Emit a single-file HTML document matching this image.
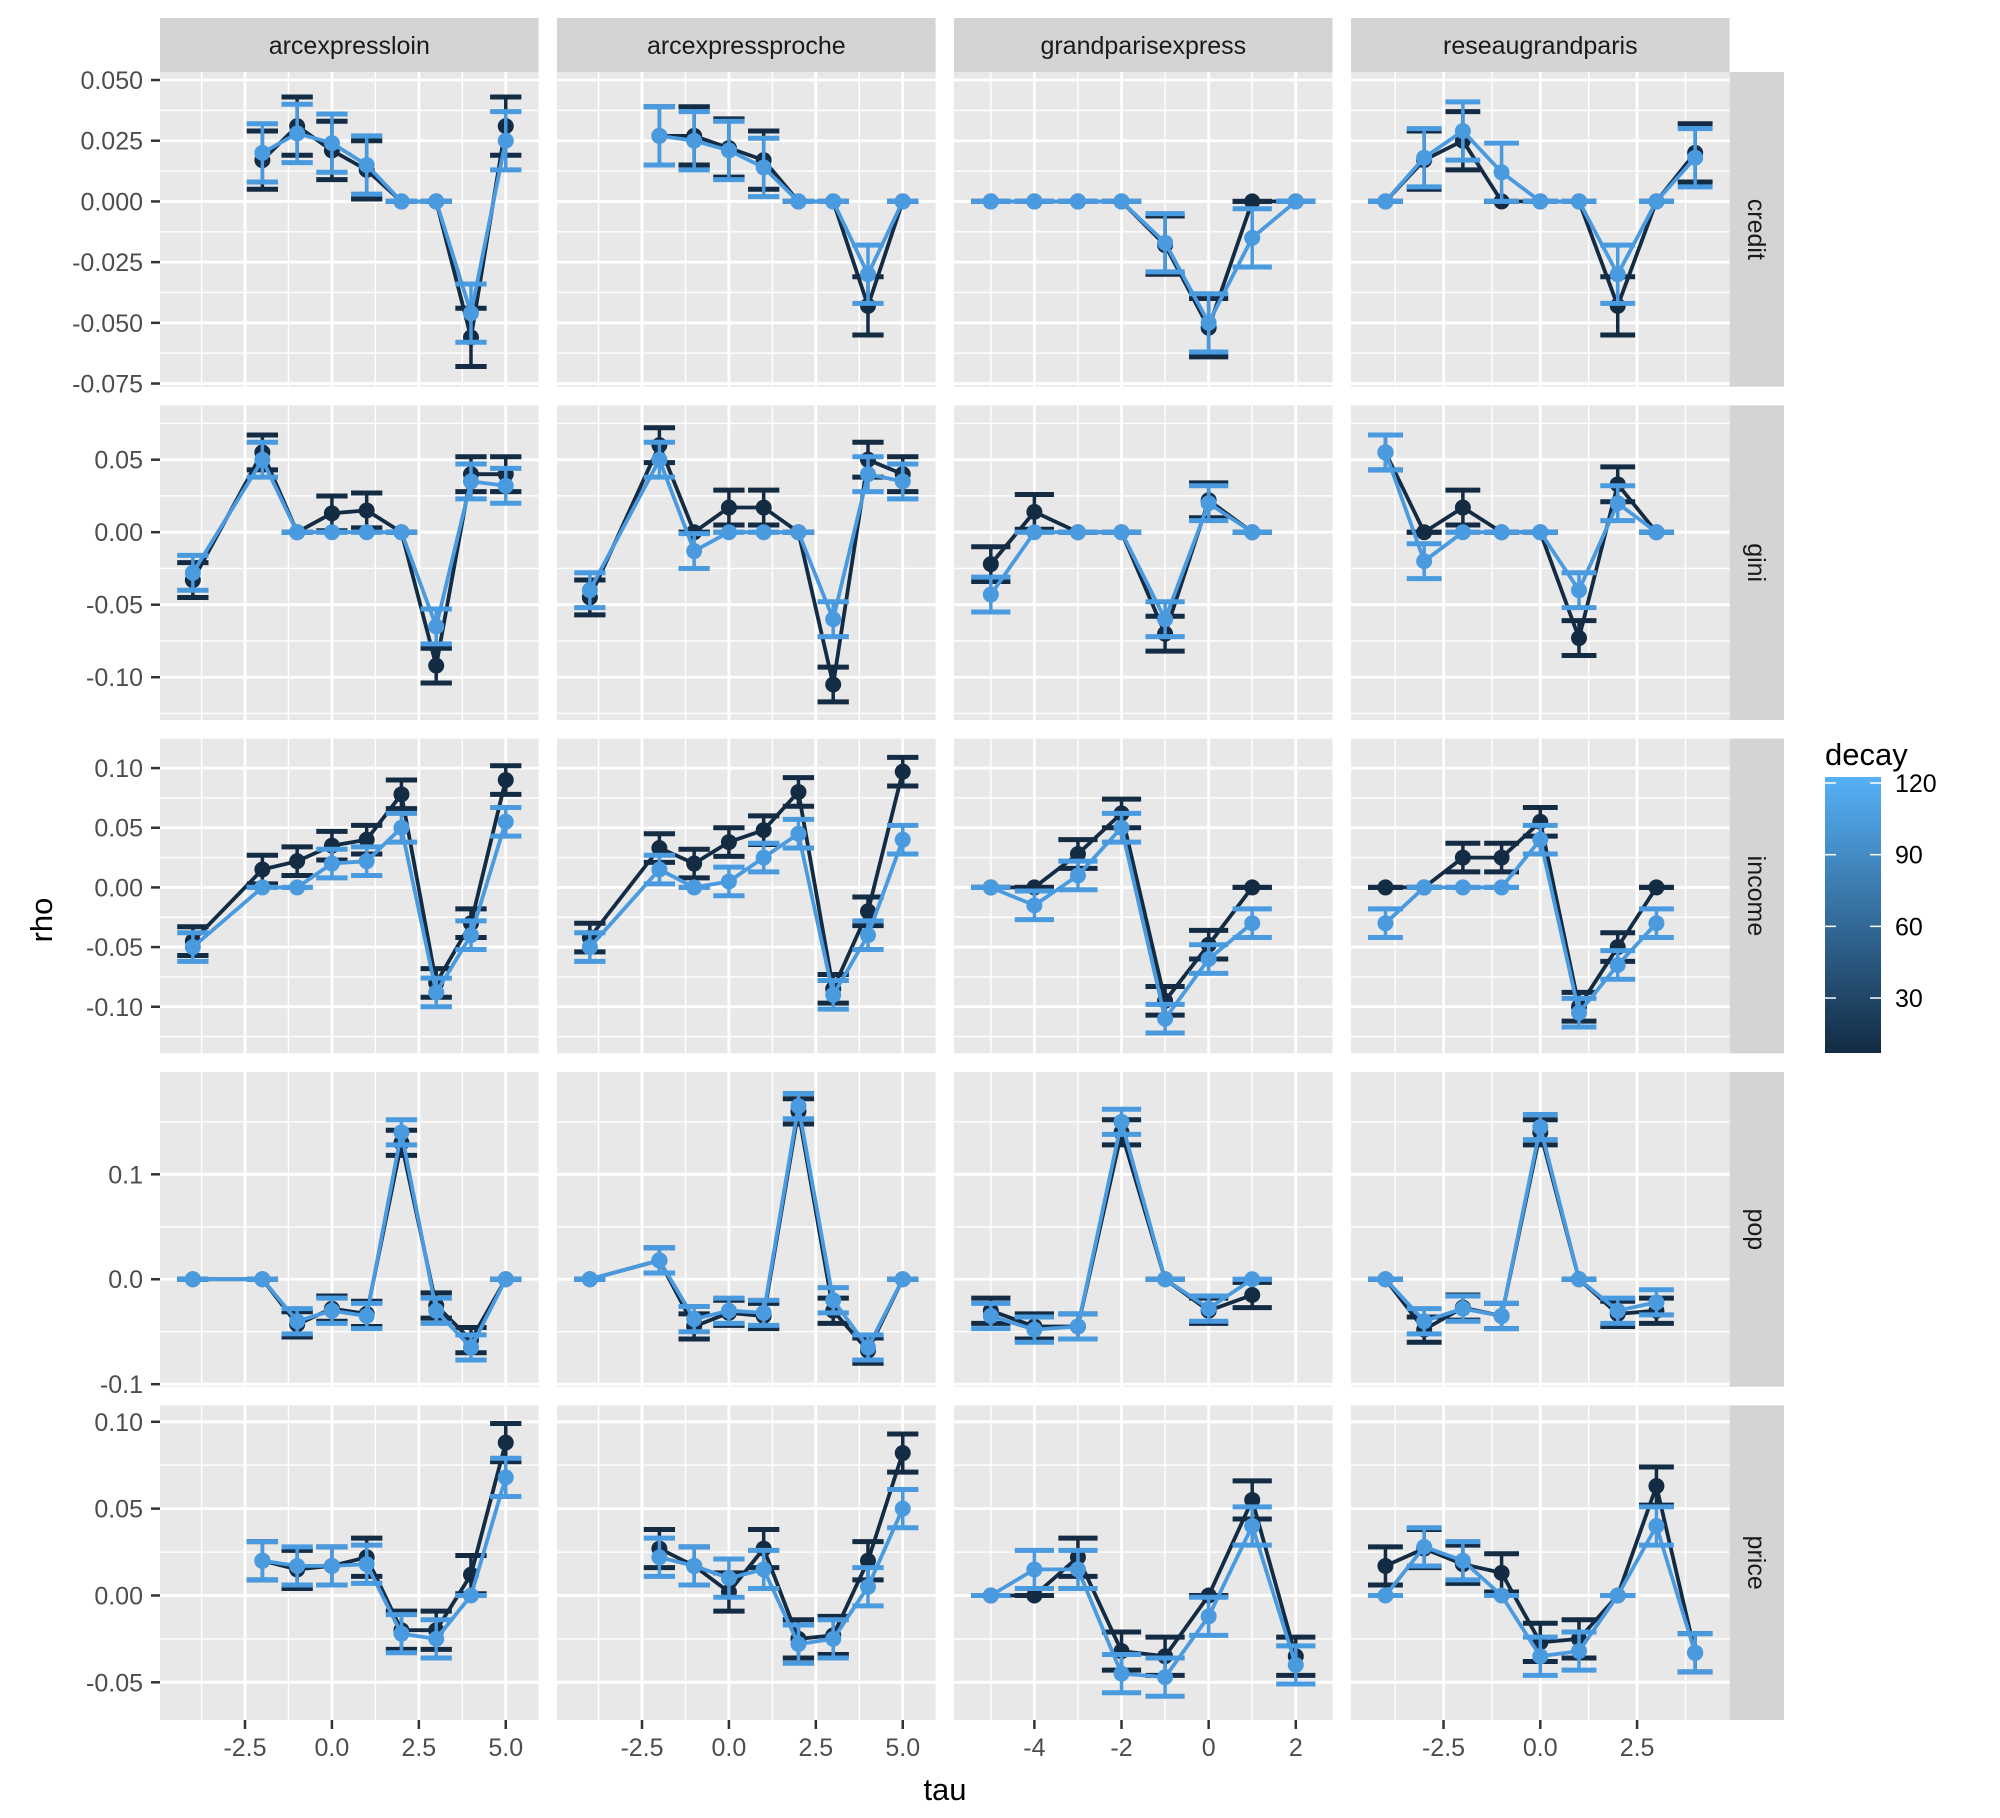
<!DOCTYPE html>
<html><head><meta charset="utf-8">
<style>
html,body{margin:0;padding:0;background:#fff;}
svg{display:block;font-family:"Liberation Sans",Arial,sans-serif;}
</style></head>
<body>
<svg id="chart" width="2000" height="1818" viewBox="0 0 2000 1818" xmlns="http://www.w3.org/2000/svg">
<rect x="0" y="0" width="2000" height="1818" fill="#fff"/>
<g id="panels"></g>
<text x="945" y="1800" font-size="31" text-anchor="middle" fill="#000">tau</text>
<text transform="translate(52,920) rotate(-90)" font-size="31" text-anchor="middle" fill="#000">rho</text>
<g>
<defs><linearGradient id="lg" x1="0" y1="1" x2="0" y2="0"><stop offset="0" stop-color="#132B43"/><stop offset="1" stop-color="#56B1F7"/></linearGradient></defs>
<text x="1825" y="765" font-size="31" fill="#000">decay</text>
<rect x="1825" y="777" width="56" height="276" fill="url(#lg)"/>
<g id="legendTicks"></g>
</g>
</svg>
<script>
// ---- data ----
const rowNames = ['credit','gini','income','pop','price'];
const colNames = ['arcexpressloin','arcexpressproche','grandparisexpress','reseaugrandparis'];
const tauC1 = [-4,-3,-2,-1,0,1,2,3,4,5];
const tauC2 = [-4,-3,-2,-1,0,1,2,3,4,5];
const tauC3 = [-5,-4,-3,-2,-1,0,1,2];
const tauC4 = [-4,-3,-2,-1,0,1,2,3,4];
const N = null;
// credit
const credit_c1_dark  = [N,N,0.017,0.031,0.021,0.013,0,0,-0.056,0.031];
const credit_c1_light = [N,N,0.020,0.028,0.024,0.015,0,0,-0.046,0.025];
const credit_c2_dark  = [N,N,0.027,0.027,0.022,0.017,0,0,-0.043,0];
const credit_c2_light = [N,N,0.027,0.025,0.021,0.014,0,0,-0.030,0];
const credit_c3_dark  = [0,0,0,0,-0.018,-0.052,0,0];
const credit_c3_light = [0,0,0,0,-0.017,-0.050,-0.015,0];
const credit_c4_dark  = [0,0.017,0.025,0,0,0,-0.043,0,0.020];
const credit_c4_light = [0,0.018,0.029,0.012,0,0,-0.030,0,0.018];
// gini
const gini_c1_dark  = [-0.033,N,0.055,0,0.013,0.015,0,-0.092,0.040,0.040];
const gini_c1_light = [-0.028,N,0.050,0,0,0,0,-0.065,0.035,0.032];
const gini_c2_dark  = [-0.045,N,0.060,0,0.017,0.017,0,-0.105,0.050,0.040];
const gini_c2_light = [-0.040,N,0.050,-0.013,0,0,0,-0.060,0.040,0.035];
const gini_c3_dark  = [-0.022,0.014,0,0,-0.070,0.022,0];
const gini_c3_light = [-0.043,0,0,0,-0.060,0.020,0];
const gini_c4_dark  = [0.055,0,0.017,0,0,-0.073,0.033,0];
const gini_c4_light = [0.055,-0.020,0,0,0,-0.040,0.020,0];
// income
const income_c1_dark  = [-0.045,N,0.015,0.022,0.035,0.040,0.078,-0.080,-0.030,0.090];
const income_c1_light = [-0.050,N,0,0,0.020,0.022,0.050,-0.088,-0.040,0.055];
const income_c2_dark  = [-0.042,N,0.033,0.020,0.038,0.048,0.080,-0.085,-0.020,0.097];
const income_c2_light = [-0.050,N,0.015,0,0.005,0.025,0.045,-0.090,-0.040,0.040];
const income_c3_dark  = [0,0,0.028,0.062,-0.095,-0.048,0];
const income_c3_light = [0,-0.015,0.010,0.050,-0.110,-0.060,-0.030];
const income_c4_dark  = [0,0,0.025,0.025,0.055,-0.100,-0.050,0];
const income_c4_light = [-0.030,0,0,0,0.040,-0.105,-0.065,-0.030];
// pop
const pop_c1_dark  = [0,N,0,-0.043,-0.028,-0.033,0.130,-0.025,-0.058,0];
const pop_c1_light = [0,N,0,-0.040,-0.030,-0.035,0.140,-0.030,-0.065,0];
const pop_c2_dark  = [0,N,0.018,-0.045,-0.032,-0.035,0.160,-0.030,-0.068,0];
const pop_c2_light = [0,N,0.018,-0.038,-0.030,-0.032,0.165,-0.020,-0.065,0];
const pop_c3_dark  = [-0.030,-0.045,-0.045,0.140,0,-0.030,-0.015];
const pop_c3_light = [-0.035,-0.048,-0.045,0.150,0,-0.028,0];
const pop_c4_dark  = [0,-0.048,-0.027,-0.035,0.140,0,-0.033,-0.030];
const pop_c4_light = [0,-0.040,-0.028,-0.035,0.145,0,-0.030,-0.022];
// price
const price_c1_dark  = [N,N,0.020,0.015,0.017,0.022,-0.020,-0.020,0.012,0.088];
const price_c1_light = [N,N,0.020,0.017,0.017,0.018,-0.022,-0.025,0,0.068];
const price_c2_dark  = [N,N,0.027,0.017,0.002,0.027,-0.025,-0.023,0.020,0.082];
const price_c2_light = [N,N,0.022,0.017,0.010,0.015,-0.028,-0.025,0.005,0.050];
const price_c3_dark  = [0,0,0.022,-0.032,-0.035,0,0.055,-0.035];
const price_c3_light = [0,0.015,0.015,-0.045,-0.047,-0.012,0.040,-0.040];
const price_c4_dark  = [0.017,0.027,0.018,0.013,-0.027,-0.025,0,0.063,-0.033];
const price_c4_light = [0,0.028,0.020,0,-0.035,-0.032,0,0.040,-0.033];
// standard errors per row
const seByRow = [0.012,0.012,0.012,0.012,0.011];
// tick labels
const yTicksCredit = [0.05,0.025,0,-0.025,-0.05,-0.075];
const yLabCredit = ['0.050','0.025','0.000','-0.025','-0.050','-0.075'];
const yTicksGini = [0.05,0,-0.05,-0.10];
const yLabGini = ['0.05','0.00','-0.05','-0.10'];
const yTicksIncome = [0.10,0.05,0,-0.05,-0.10];
const yLabIncome = ['0.10','0.05','0.00','-0.05','-0.10'];
const yTicksPop = [0.1,0,-0.1];
const yLabPop = ['0.1','0.0','-0.1'];
const yTicksPrice = [0.10,0.05,0,-0.05];
const yLabPrice = ['0.10','0.05','0.00','-0.05'];
const xTicksC12 = [-2.5,0,2.5,5];
const xLabC12 = ['-2.5','0.0','2.5','5.0'];
const xTicksC3 = [-4,-2,0,2];
const xLabC3 = ['-4','-2','0','2'];
const xTicksC4 = [-2.5,0,2.5];
const xLabC4 = ['-2.5','0.0','2.5'];
const legendBreaks = [30,60,90,120];

// ---- layout ----
const NS='http://www.w3.org/2000/svg';
const colX=[160,557,954,1351], colW=378.6;
const rowY=[72,405.3,738.6,1072,1405.3], rowH=314.7;
const stripTop=18, stripRight=1784;
const yDom=[[-0.0763,0.0533],[-0.1295,0.0875],[-0.139,0.1247],[-0.1024,0.1975],[-0.0717,0.1095]];
const xDom=[[-4.945,5.945],[-4.945,5.945],[-5.845,2.845],[-4.89,4.89]];
const taus=[tauC1,tauC2,tauC3,tauC4];
const xT=[xTicksC12,xTicksC12,xTicksC3,xTicksC4];
const xL=[xLabC12,xLabC12,xLabC3,xLabC4];
const yT=[yTicksCredit,yTicksGini,yTicksIncome,yTicksPop,yTicksPrice];
const yL=[yLabCredit,yLabGini,yLabIncome,yLabPop,yLabPrice];
const DATA={credit:[[credit_c1_dark,credit_c1_light],[credit_c2_dark,credit_c2_light],[credit_c3_dark,credit_c3_light],[credit_c4_dark,credit_c4_light]],
gini:[[gini_c1_dark,gini_c1_light],[gini_c2_dark,gini_c2_light],[gini_c3_dark,gini_c3_light],[gini_c4_dark,gini_c4_light]],
income:[[income_c1_dark,income_c1_light],[income_c2_dark,income_c2_light],[income_c3_dark,income_c3_light],[income_c4_dark,income_c4_light]],
pop:[[pop_c1_dark,pop_c1_light],[pop_c2_dark,pop_c2_light],[pop_c3_dark,pop_c3_light],[pop_c4_dark,pop_c4_light]],
price:[[price_c1_dark,price_c1_light],[price_c2_dark,price_c2_light],[price_c3_dark,price_c3_light],[price_c4_dark,price_c4_light]]};
const seriesColors=['#132B43','#4A9AE0'];
const seriesNames=['decay-low','decay-120'];

function el(tag,attrs,parent){const e=document.createElementNS(NS,tag);for(const k in attrs)e.setAttribute(k,attrs[k]);parent.appendChild(e);return e;}
const root=document.getElementById('panels');

function xs(c,v){const d=xDom[c];return colX[c]+(v-d[0])/(d[1]-d[0])*colW;}
function ys(r,v){const d=yDom[r];return rowY[r]+rowH-(v-d[0])/(d[1]-d[0])*rowH;}

colNames.forEach((n,c)=>{
  const s=el('rect',{x:colX[c],y:stripTop,width:colW,height:rowY[0]-stripTop,fill:'#D4D4D4'},root);
  
  
  const t=el('text',{x:colX[c]+colW/2,y:(stripTop+rowY[0])/2+9,'font-size':25,'text-anchor':'middle',fill:'#1A1A1A'},root);
  t.textContent=n;
  
  
});
rowNames.forEach((n,r)=>{
  const s=el('rect',{x:colX[3]+colW,y:rowY[r],width:stripRight-colX[3]-colW,height:rowH,fill:'#D4D4D4'},root);
  
  
  const cx=(colX[3]+colW+stripRight)/2, cy=rowY[r]+rowH/2;
  const t=el('text',{transform:`translate(${cx-9},${cy}) rotate(90)`,'font-size':25,'text-anchor':'middle',fill:'#1A1A1A'},root);
  t.textContent=n;
  
  
});

for(let r=0;r<5;r++){
  for(let c=0;c<4;c++){
    const g=el('g',{},root);
    
    
    el('rect',{x:colX[c],y:rowY[r],width:colW,height:rowH,fill:'#E8E8E8'},g);
    const cp='cp'+r+c;
    const cl=el('clipPath',{id:cp},g);el('rect',{x:colX[c],y:rowY[r],width:colW,height:rowH},cl);
    const xt=xT[c], yt=yT[r].slice().sort((a,b)=>a-b);
    const xstep=xt[1]-xt[0], ystep=yt[1]-yt[0];
    for(let v=xt[0]-xstep/2;v<=xDom[c][1];v+=xstep){ if(v<xDom[c][0])continue;
      el('line',{x1:xs(c,v),x2:xs(c,v),y1:rowY[r],y2:rowY[r]+rowH,stroke:'#fff','stroke-width':1.4},g);}
    for(let v=yt[0]-ystep/2;v<=yDom[r][1];v+=ystep){ if(v<yDom[r][0])continue;
      el('line',{x1:colX[c],x2:colX[c]+colW,y1:ys(r,v),y2:ys(r,v),stroke:'#fff','stroke-width':1.4},g);}
    xt.forEach(v=>el('line',{x1:xs(c,v),x2:xs(c,v),y1:rowY[r],y2:rowY[r]+rowH,stroke:'#fff','stroke-width':2.8},g));
    yT[r].forEach(v=>el('line',{x1:colX[c],x2:colX[c]+colW,y1:ys(r,v),y2:ys(r,v),stroke:'#fff','stroke-width':2.8},g));
    const se=seByRow[r];
    DATA[rowNames[r]][c].forEach((vals,si)=>{
      const sg=el('g',{'clip-path':`url(#${cp})`},g);
      
      
      const col=seriesColors[si];
      const tau=taus[c];
      vals.forEach((v,i)=>{ if(v===null)return;
        const s=v===0?0:se; const x=xs(c,tau[i]);
        const hw=xs(c,0.45)-xs(c,0);
        const eb=el('g',{stroke:col,fill:'none'},sg);
        
        
        el('line',{x1:x,x2:x,y1:ys(r,v-s),y2:ys(r,v+s),'stroke-width':3.5},eb);
        el('line',{x1:x-hw,x2:x+hw,y1:ys(r,v-s),y2:ys(r,v-s),'stroke-width':5},eb);
        el('line',{x1:x-hw,x2:x+hw,y1:ys(r,v+s),y2:ys(r,v+s),'stroke-width':5},eb);
      });
      let d='';
      vals.forEach((v,i)=>{ if(v===null)return; d+=(d?'L':'M')+xs(c,tau[i]).toFixed(1)+','+ys(r,v).toFixed(1);});
      const ln=el('path',{d:d,fill:'none',stroke:col,'stroke-width':3.8,'stroke-linejoin':'round'},sg);
      
      
      vals.forEach((v,i)=>{ if(v===null)return;
        const p=el('circle',{cx:xs(c,tau[i]),cy:ys(r,v),r:8,fill:col},sg);
        
        
      });
    });
    if(c===0){
      yT[r].forEach((v,i)=>{
        el('line',{x1:151,x2:160,y1:ys(r,v),y2:ys(r,v),stroke:'#333','stroke-width':2.5},root);
        const t=el('text',{x:143,y:ys(r,v)+9,'font-size':25,'text-anchor':'end',fill:'#4D4D4D'},root);
        t.textContent=yL[r][i];
        
        
      });
    }
    if(r===4){
      xt.forEach((v,i)=>{
        const b=rowY[4]+rowH;
        el('line',{x1:xs(c,v),x2:xs(c,v),y1:b,y2:b+9,stroke:'#333','stroke-width':2.5},root);
        const t=el('text',{x:xs(c,v),y:b+36,'font-size':25,'text-anchor':'middle',fill:'#4D4D4D'},root);
        t.textContent=xL[c][i];
        
        
      });
    }
  }
}
const lt=document.getElementById('legendTicks');
legendBreaks.forEach(b=>{
  const y=1053-(b-7)/(120-7)*270;
  el('line',{x1:1825,x2:1836,y1:y,y2:y,stroke:'#fff','stroke-width':1.5},lt);
  el('line',{x1:1870,x2:1881,y1:y,y2:y,stroke:'#fff','stroke-width':1.5},lt);
  const t=el('text',{x:1895,y:y+9,'font-size':25,fill:'#000'},lt);
  t.textContent=String(b);
  
  
});
</script>
</body></html>
